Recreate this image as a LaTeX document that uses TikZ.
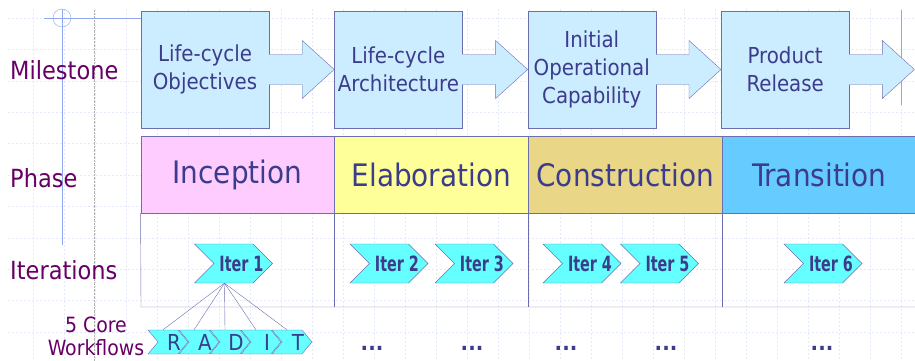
\documentclass[tikz,border=0pt]{standalone}
\usepackage{fontspec}
\setmainfont{DejaVu Sans Condensed}
\usetikzlibrary{positioning,shapes.symbols}

\definecolor{msfill}{HTML}{CCECFF}
\definecolor{edgeblue}{HTML}{6B6FB0}
\definecolor{navy}{HTML}{3C3C8C}
\definecolor{plum}{HTML}{660066}
\definecolor{phpink}{HTML}{FFCCFF}
\definecolor{phyellow}{HTML}{FFFF99}
\definecolor{phtan}{HTML}{E9D686}
\definecolor{phblue}{HTML}{66CCFF}
\definecolor{itcyan}{HTML}{66FFFF}
\definecolor{gridblue}{HTML}{E3E9F8}
\definecolor{guide}{HTML}{8FA8F0}

% label pushed right of the chevron centre, squeezed horizontally
\newcommand{\iterlabel}[1]{\makebox[0pt]{\hspace{16pt}\scalebox{0.76}[1]{#1}}}
\newcommand{\flowlabel}[1]{\makebox[0pt]{\hspace{12pt}#1}}

\begin{document}
\begin{tikzpicture}[x=1pt, y=-1pt,
  milestone/.style={draw=edgeblue, fill=msfill, minimum width=128pt,
              minimum height=117pt, align=center, text=navy, font=\fontsize{22}{28}\selectfont},
  phase/.style={draw=edgeblue, minimum width=193.5pt, minimum height=77pt,
              text=navy, font=\fontsize{31}{36}\selectfont},
  iter/.style={signal, signal from=west, signal to=east, signal pointer angle=90,
              draw=edgeblue, fill=itcyan, minimum width=78pt, minimum height=39pt,
              inner sep=0pt, text=navy, font=\bfseries\fontsize{21}{22}\selectfont},
  flow/.style={signal, signal from=west, signal to=east, signal pointer angle=100,
              draw=edgeblue, fill=itcyan, minimum width=40pt, minimum height=24pt,
              inner sep=0pt, text=navy, font=\fontsize{22}{24}\selectfont},
  rowlabel/.style={text=plum, anchor=west, inner sep=0pt, font=\fontsize{25}{30}\selectfont},
  more/.style={text=navy, font=\bfseries\fontsize{22}{22}\selectfont}
]
\useasboundingbox (0,0) rectangle (915,361);

% background grid and guides
\begin{scope}
  \clip (8,9) rectangle (915,361);
  \foreach \i in {0,...,29} \draw[gridblue, line width=0.5pt, dash pattern=on 2pt off 2pt] (2+31*\i,9) -- (2+31*\i,361);
  \foreach \j in {0,...,11} \draw[gridblue, line width=0.5pt, dash pattern=on 2pt off 2pt] (8,18+31.4*\j) -- (915,18+31.4*\j);
\end{scope}
\draw[gray!60, densely dotted] (94,10) -- (94,361);
\draw[guide] (44,18) -- (141,18);
\draw[guide] (62,9) -- (62,245);
\draw[guide] (62,18) circle (9);
\draw[guide] (901,10) -- (901,105);

% row labels
\node[rowlabel] (lms) at (10,70) {Milestone};
\node[rowlabel] (lph) at (10,178) {Phase};
\node[rowlabel] (lit) at (10,270) {Iterations};
\node[text=plum, align=center, inner sep=0pt, font=\fontsize{21}{23}\selectfont] (lwf) at (96,336) {5 Core\\Workflows};

% milestones
\node[milestone] (ms1) at (205,69.5) {Life-cycle\\Objectives};
\node[milestone, right=65pt of ms1] (ms2) {Life-cycle\\Architecture};
\node[milestone, right=65pt of ms2] (ms3) {Initial\\Operational\\Capability};
\node[milestone, right=65pt of ms3] (ms4) {Product\\Release};
\foreach \m in {ms1,ms2,ms3,ms4} {
  \fill[msfill] ([xshift=-1pt,yshift=15pt]\m.east) -- ++(34,0) -- ++(0,-14) -- ++(32,29)
     -- ++(-32,29) -- ++(0,-14) -- ++(-34,0) -- cycle;
  \draw[edgeblue] ([yshift=15pt]\m.east) -- ++(33,0) -- ++(0,-14) -- ++(32,29)
     -- ++(-32,29) -- ++(0,-14) -- ++(-33,0);
}

% phases
\node[phase, fill=phpink] (ph1) at (237.5,174.5) {Inception};
\node[phase, fill=phyellow, right=0pt of ph1] (ph2) {Elaboration};
\node[phase, fill=phtan, right=0pt of ph2] (ph3) {Construction};
\node[phase, fill=phblue, right=0pt of ph3] (ph4) {Transition};

% iteration cells
\coordinate (cellbl) at (141,307);
\coordinate (cellbr) at (915,307);
\draw[edgeblue] (ph1.south west) -- (cellbl) -- (cellbr);
\foreach \p in {ph1,ph2,ph3} \draw[edgeblue] (\p.south east) -- (\p.south east |- cellbl);

% iterations
\node[iter] (it1) at (233.5,263.5) {\iterlabel{Iter 1}};
\node[iter] (it2) at (389,263.5) {\iterlabel{Iter 2}};
\node[iter] (it3) at (474,263.5) {\iterlabel{Iter 3}};
\node[iter] (it4) at (582,263.5) {\iterlabel{Iter 4}};
\node[iter] (it5) at (659.5,263.5) {\iterlabel{Iter 5}};
\node[iter] (it6) at (823,263.5) {\iterlabel{Iter 6}};

% core workflows
\node[flow] (wfR) at (168,342) {\flowlabel{R}};
\node[flow] (wfA) at (199,342) {\flowlabel{A}};
\node[flow] (wfD) at (230,342) {\flowlabel{D}};
\node[flow] (wfI) at (261,342) {\flowlabel{I}};
\node[flow] (wfT) at (292,342) {\flowlabel{T}};
\coordinate (hub) at ([xshift=-9pt]it1.south);
\foreach \w in {wfR,wfA,wfD,wfI,wfT} \draw[edgeblue] (hub) -- ([xshift=-5pt]\w.north);

% further workflows
\node[more] (m2) at (372,348) {...};
\node[more] (m3) at (472,348) {...};
\node[more] (m4) at (566,348) {...};
\node[more] (m5) at (666,348) {...};
\node[more] (m6) at (822,348) {...};
\end{tikzpicture}
\end{document}
